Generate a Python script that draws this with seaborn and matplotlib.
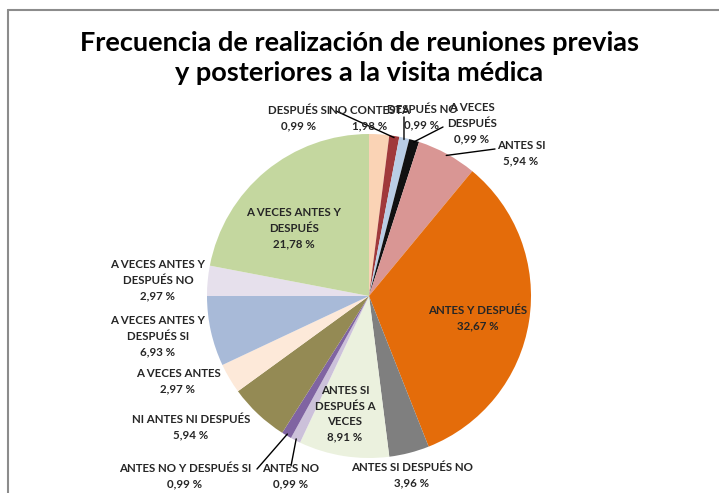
import matplotlib
matplotlib.use("Agg")
import matplotlib.pyplot as plt
import seaborn as sns
import numpy as np
from matplotlib.lines import Line2D

sns.set_theme(style="white")
plt.rcParams['font.family'] = ['Lato', 'DejaVu Sans']

# data, clockwise from 12 o'clock
labels = ["NO CONTESTA", "DESPUÉS SI", "DESPUÉS NO", "A VECES\nDESPUÉS", "ANTES SI",
          "ANTES Y DESPUÉS", "ANTES SI DESPUÉS NO", "ANTES SI\nDESPUÉS A\nVECES", "ANTES NO",
          "ANTES NO Y DESPUÉS SI", "NI ANTES NI DESPUÉS", "A VECES ANTES",
          "A VECES ANTES Y\nDESPUÉS SI", "A VECES ANTES Y\nDESPUÉS NO", "A VECES ANTES Y\nDESPUÉS"]
values = [1.98, 0.99, 0.99, 0.99, 5.94, 32.67, 3.96, 8.91, 0.99, 0.99, 5.94, 2.97, 6.93, 2.97, 21.78]
colors = ["#FAD3B5", "#A0393B", "#B9CDE5", "#111111", "#D99694", "#E46C0A", "#7F7F7F", "#EBF1DE",
          "#CCC1DA", "#8064A2", "#948A54", "#FDE9D9", "#A8BAD8", "#E6E0EC", "#C4D79F"]

title = "Frecuencia de realización de reuniones previas\ny posteriores a la visita médica"

# layout (pixels in the 719x493 image)
CX, CY, R = 369, 296, 162
label_pos = [(370, 118), (299, 118), (422, 117), (472, 123), (521, 153),
             (478, 318), (412, 475), (345, 414), (291, 476),
             (185, 476), (191, 427), (178, 381), (158, 336), (158, 280), (294, 228)]
# leader line start (pixel) for labels that have one
leaders = {1: (336, 111), 2: (404, 117), 3: (443, 127), 4: (495, 149),
           8: (291, 466), 9: (257, 469)}

W, H = 719, 493
fig = plt.figure(figsize=(W / 100, H / 100), dpi=100)
fig.patch.set_facecolor("white")
ax = fig.add_axes([(CX - R) / W, (H - CY - R) / H, 2 * R / W, 2 * R / H])

wedges, _ = ax.pie(values, colors=sns.color_palette(colors), startangle=90, counterclock=False,
                   wedgeprops=dict(linewidth=0))
ax.set_xlim(-1, 1)
ax.set_ylim(-1, 1)
ax.axis("off")


def px(x, y):
    return (x - CX) / R, (CY - y) / R


for i, (lab, v) in enumerate(zip(labels, values)):
    tx, ty = px(*label_pos[i])
    ax.text(tx, ty, f"{lab}\n{v:.2f} %".replace(".", ","), ha="center", va="center",
            fontsize=8.3, fontweight="bold", color="#262626", linespacing=1.5)
    if i in leaders:
        w = wedges[i]
        mid = np.deg2rad((w.theta1 + w.theta2) / 2)
        ex, ey = np.cos(mid) * 0.99, np.sin(mid) * 0.99
        sx, sy = px(*leaders[i])
        ax.plot([sx, ex], [sy, ey], color="black", lw=1, clip_on=False)

fig.text(0.5, 1 - 58 / H, title, ha="center", va="center", fontsize=19.5,
         fontweight="bold", color="black", linespacing=1.3)

# chart frame (left and top edges visible)
fig.add_artist(Line2D([8 / W, 8 / W], [0, 1 - 10 / H], transform=fig.transFigure, color="#8c8c8c", lw=1.5))
fig.add_artist(Line2D([8 / W, 1], [1 - 10 / H, 1 - 10 / H], transform=fig.transFigure, color="#8c8c8c", lw=1.5))

fig.savefig("out.png", dpi=100)
